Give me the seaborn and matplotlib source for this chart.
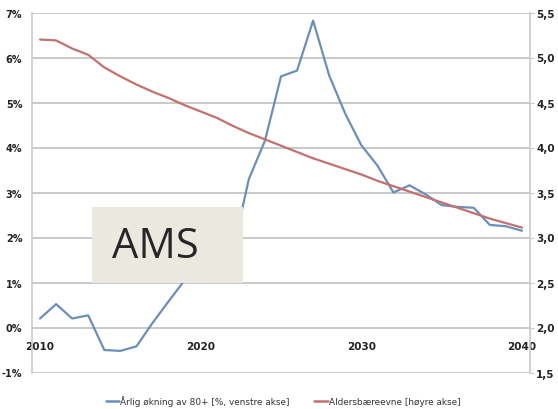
import matplotlib
matplotlib.use("Agg")
import matplotlib.pyplot as plt
import seaborn as sns
import pandas as pd
from matplotlib.patches import Rectangle
from matplotlib.ticker import MultipleLocator, FixedLocator

years = list(range(2010, 2041))
growth_80plus = [0.2, 0.52, 0.2, 0.27, -0.5, -0.52, -0.42, 0.1, 0.58, 1.05,
                 1.3, 1.5, 1.7, 3.3, 4.15, 5.58, 5.71, 6.82, 5.6, 4.75,
                 4.05, 3.6, 3.0, 3.16, 2.96, 2.72, 2.68, 2.66, 2.28, 2.25, 2.15]
support_ratio = [5.2, 5.19, 5.1, 5.03, 4.89, 4.79, 4.7, 4.62, 4.55, 4.47,
                 4.4, 4.33, 4.24, 4.16, 4.09, 4.02, 3.95, 3.88, 3.82, 3.76,
                 3.7, 3.63, 3.57, 3.51, 3.45, 3.39, 3.33, 3.27, 3.21, 3.16, 3.11]
left_ticks = [-1, 0, 1, 2, 3, 4, 5, 6, 7]
left_labels = ["-1%", "0%", "1%", "2%", "3%", "4%", "5%", "6%", "7%"]
right_ticks = [1.5, 2.0, 2.5, 3.0, 3.5, 4.0, 4.5, 5.0, 5.5]
right_labels = ["1,5", "2,0", "2,5", "3,0", "3,5", "4,0", "4,5", "5,0", "5,5"]
year_ticks = [2010, 2020, 2030, 2040]
label_growth = "Årlig økning av 80+ [%, venstre akse]"
label_support = "Aldersbæreevne [høyre akse]"
watermark = "AMS"

df = pd.DataFrame({"year": years, "growth": growth_80plus, "support": support_ratio})

sns.set_style("white")
plt.rcParams["font.family"] = ["Liberation Sans Narrow", "DejaVu Sans"]

W, H = 558, 410
fig = plt.figure(figsize=(W / 100, H / 100), dpi=100)
ax = fig.add_axes([32 / W, 1 - 373.5 / H, (530 - 32) / W, (373.5 - 13.5) / H])
ax2 = ax.twinx()

blue = "#6b8fb8"
red = "#c2716f"
grid_c = "#c9c9c9"

sns.lineplot(data=df, x="year", y="growth", ax=ax, color=blue, linewidth=1.6,
             legend=False, zorder=3)
sns.lineplot(data=df, x="year", y="support", ax=ax2, color=red, linewidth=1.6,
             legend=False, zorder=3)

ax.set_xlim(2009.5, 2040.5)
ax.set_ylim(-1, 7)
ax2.set_ylim(1.5, 5.5)

for v in left_ticks:
    ax.axhline(v, color=grid_c, linewidth=1.4, zorder=1)

ax.set_yticks(left_ticks)
ax.set_yticklabels(left_labels)
ax2.set_yticks(right_ticks)
ax2.set_yticklabels(right_labels)

ax.spines["bottom"].set_position(("data", 0))
ax.xaxis.set_major_locator(FixedLocator(year_ticks))
ax.xaxis.set_minor_locator(MultipleLocator(1))
ax.set_xticklabels([str(y) for y in year_ticks])

for a in (ax, ax2):
    for s in a.spines.values():
        s.set_visible(False)
    a.set_xlabel("")
    a.set_ylabel("")
ax.spines["left"].set_visible(True)
ax.spines["left"].set_color(grid_c)
ax.spines["left"].set_linewidth(1.2)
ax2.spines["right"].set_visible(True)
ax2.spines["right"].set_color(grid_c)
ax2.spines["right"].set_linewidth(1.2)

ax.tick_params(axis="x", which="both", direction="out", color="#9a9a9a",
               labelsize=7.5, pad=7)
ax.tick_params(axis="x", which="major", length=3)
ax.tick_params(axis="x", which="minor", length=2)
ax.tick_params(axis="y", length=0, labelsize=7, pad=7)
ax2.tick_params(axis="y", length=3, color=grid_c, labelsize=7.5, pad=1.5)
for lbl in ax.get_xticklabels() + ax.get_yticklabels() + ax2.get_yticklabels():
    lbl.set_fontweight("bold")
    lbl.set_color("#222222")

# legend below the plot
handles = [plt.Line2D([], [], color=blue, linewidth=1.8),
           plt.Line2D([], [], color=red, linewidth=1.8)]
fig.legend(handles, [label_growth, label_support], loc="center",
           bbox_to_anchor=(283 / W, 1 - 402 / H), ncol=2, frameon=False,
           fontsize=6.4, handlelength=1.5, handletextpad=0.1, columnspacing=2.8,
           labelcolor="#333333")

# label box laid over the chart
fig.add_artist(Rectangle((92 / W, 1 - 284 / H), (243 - 92) / W, (284 - 208) / H,
                         transform=fig.transFigure, facecolor="#ebe8df",
                         edgecolor="none", zorder=10))
fig.text(155 / W, 1 - 247 / H, watermark, ha="center", va="center",
         fontsize=30, color="#262626", family=["Open Sans", "DejaVu Sans"],
         zorder=11)

fig.savefig("out.png", dpi=100, facecolor="white")
